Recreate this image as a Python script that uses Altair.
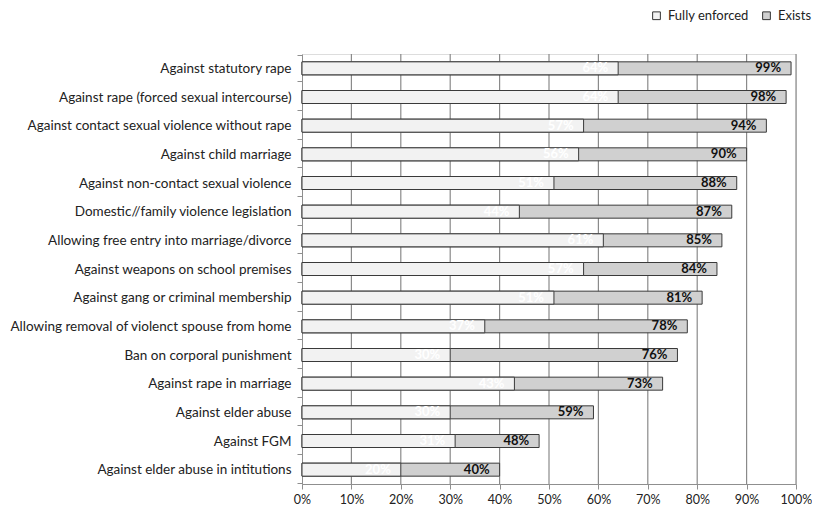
import altair as alt
import pandas as pd

categories = [
    "Against statutory rape",
    "Against rape (forced sexual intercourse)",
    "Against contact sexual violence without rape",
    "Against child marriage",
    "Against non-contact sexual violence",
    "Domestic//family violence legislation",
    "Allowing free entry into marriage/divorce",
    "Against weapons on school premises",
    "Against gang or criminal membership",
    "Allowing removal of violenct spouse from home",
    "Ban on corporal punishment",
    "Against rape in marriage",
    "Against elder abuse",
    "Against FGM",
    "Against elder abuse in intitutions",
]
exists = [99, 98, 94, 90, 88, 87, 85, 84, 81, 78, 76, 73, 59, 48, 40]
enforced = [64, 64, 57, 56, 51, 44, 61, 57, 51, 37, 30, 43, 30, 31, 20]
series = ["Fully enforced", "Exists"]
ticks = [0, 10, 20, 30, 40, 50, 60, 70, 80, 90, 100]

rows = []
for c, v in zip(categories, exists):
    rows.append({"category": c, "series": "Exists", "value": v, "ord": 0})
for c, v in zip(categories, enforced):
    rows.append({"category": c, "series": "Fully enforced", "value": v, "ord": 1})
df = pd.DataFrame(rows)
df["label"] = df["value"].astype(str) + "%"
grid_df = pd.DataFrame({"value": ticks[1:]})

FONT = "Lato"
W, H = 494, 430

x_axis = alt.Axis(
    values=ticks,
    labelExpr="datum.value + '%'",
    title=None,
    grid=False,
    domainColor="#8f8f8f",
    tickColor="#8f8f8f",
    tickSize=5,
    labelFont=FONT,
    labelFontSize=12.5,
    labelColor="#222222",
    labelPadding=4,
    labelOverlap=False,
    labelFlush=False,
)
x_scale = alt.Scale(domain=[0, 100], nice=False)
y_axis = alt.Axis(
    title=None,
    tickBand="extent",
    tickSize=5,
    tickColor="#8f8f8f",
    domainColor="#8f8f8f",
    grid=False,
    labelFont=FONT,
    labelFontSize=13.5,
    labelColor="#222222",
    labelPadding=6,
    labelLimit=300,
)

def xe():
    return alt.X("value:Q", stack=None, scale=x_scale, axis=x_axis)

def ye():
    return alt.Y("category:N", sort=categories, axis=y_axis)

grid = alt.Chart(grid_df).mark_rule(color="#8a8a8a", strokeWidth=1.2).encode(
    x=xe(), y=alt.value(0), y2=alt.value(H)
)

bars = alt.Chart(df).mark_bar(size=13, stroke="#3a3a3a", strokeWidth=1).encode(
    x=xe(),
    y=ye(),
    color=alt.Color(
        "series:N",
        scale=alt.Scale(domain=series, range=["#f2f2f2", "#d0d0d0"]),
        legend=alt.Legend(
            title=None,
            orient="none",
            direction="horizontal",
            legendX=348,
            legendY=-45,
            symbolType="square",
            symbolSize=60,
            symbolStrokeColor="#333333",
            symbolStrokeWidth=1,
            labelFont=FONT,
            labelFontSize=13,
            labelColor="#222222",
            labelLimit=200,
            labelOffset=5,
            columnPadding=11,
        ),
    ),
    order=alt.Order("ord:Q"),
)

text_exists = alt.Chart(df[df["series"] == "Exists"]).mark_text(
    align="right", baseline="middle", dx=-10, font=FONT, fontSize=13,
    fontWeight="bold", color="#111111",
).encode(x=xe(), y=ye(), text="label:N")

text_enf = alt.Chart(df[df["series"] == "Fully enforced"]).mark_text(
    align="right", baseline="middle", dx=-10, font=FONT, fontSize=13,
    fontWeight="bold", color="#ffffff",
).encode(x=xe(), y=ye(), text="label:N")

chart = alt.layer(grid, bars, text_enf, text_exists).properties(
    width=W,
    height=H,
    autosize=alt.AutoSizeParams(type="none"),
    padding={"left": 294, "top": 46, "right": 16, "bottom": 23},
).configure_view(stroke=None).configure(background="white")

chart.save("out.html", embed_options={"renderer": "svg", "actions": False})
